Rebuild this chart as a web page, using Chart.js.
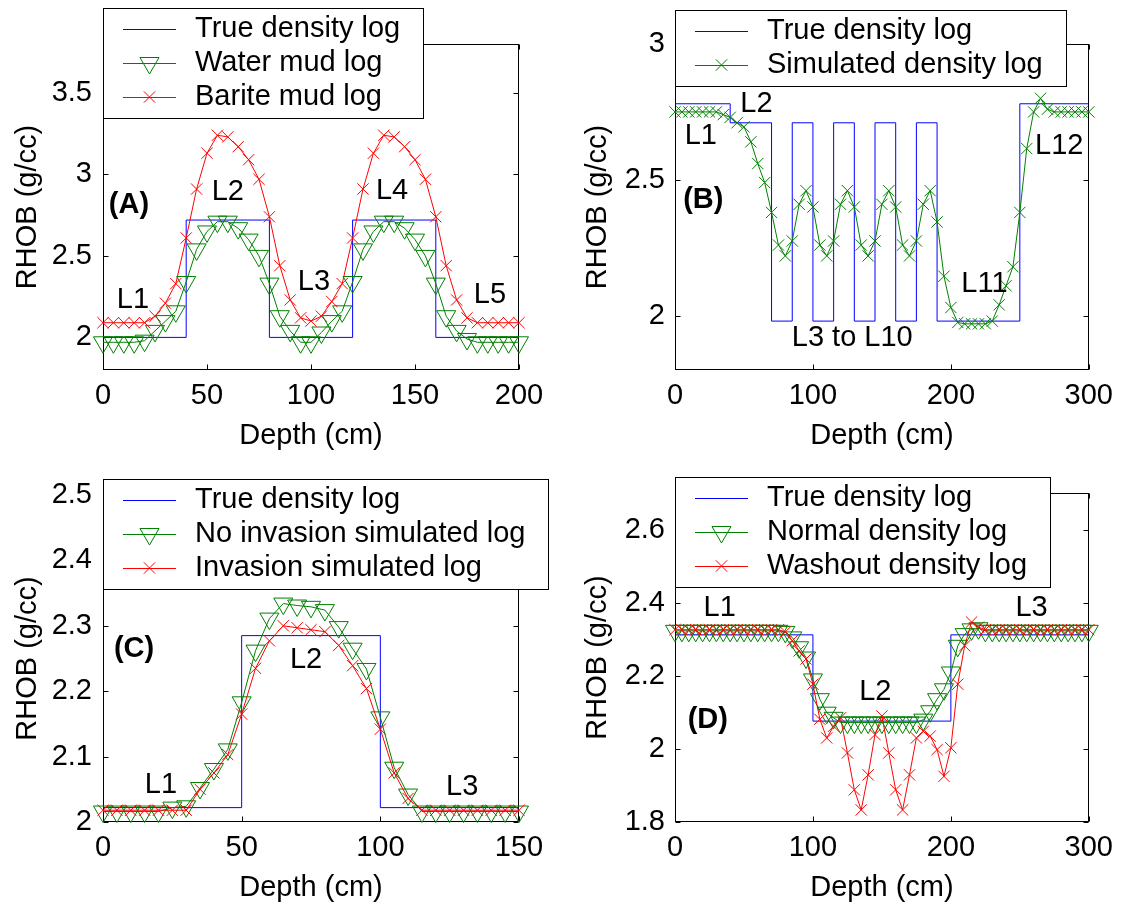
<!DOCTYPE html>
<html>
<head>
<meta charset="utf-8">
<title>Density log panels</title>
<script src="https://cdn.jsdelivr.net/npm/chart.js@4.4.0/dist/chart.umd.min.js"></script>
<style>
  body { margin: 0; background: #fff; width: 1122px; height: 909px; position: relative; overflow: hidden; }
  canvas { position: absolute; }
</style>
</head>
<body>
<canvas id="chartA" width="561" height="454" style="left:0;top:0"></canvas>
<canvas id="chartB" width="561" height="454" style="left:561px;top:0"></canvas>
<canvas id="chartC" width="561" height="455" style="left:0;top:454px"></canvas>
<canvas id="chartD" width="561" height="455" style="left:561px;top:454px"></canvas>
<script>
// --- PANEL A : water vs barite mud ---
const trueDepthA = [0, 40, 80, 120, 160, 200];
const trueRhobA  = [2.0, 2.72, 2.0, 2.72, 2.0, 2.0];
const depthA = [0, 5, 10, 15, 20, 25, 30, 35, 40, 45, 50, 55, 60, 65, 70, 75, 80, 85, 90, 95, 100,
                105, 110, 115, 120, 125, 130, 135, 140, 145, 150, 155, 160, 165, 170, 175, 180, 185, 190, 195, 200];
const waterA = [1.97, 1.97, 1.97, 1.97, 1.98, 2.04, 2.10, 2.16, 2.34, 2.54, 2.65, 2.71, 2.71, 2.67, 2.60, 2.50, 2.33, 2.13, 2.04, 1.97, 1.97,
                2.03, 2.10, 2.16, 2.34, 2.54, 2.65, 2.71, 2.71, 2.67, 2.60, 2.50, 2.33, 2.13, 2.04, 1.99, 1.97, 1.97, 1.97, 1.97, 1.97];
const bariteA = [2.09, 2.09, 2.09, 2.09, 2.09, 2.13, 2.21, 2.33, 2.61, 2.91, 3.13, 3.24, 3.23, 3.17, 3.09, 2.97, 2.74, 2.44, 2.23, 2.12, 2.10,
                 2.13, 2.22, 2.33, 2.61, 2.91, 3.13, 3.24, 3.23, 3.17, 3.09, 2.97, 2.74, 2.44, 2.23, 2.12, 2.09, 2.09, 2.09, 2.09, 2.09];
const xTicksA = [0, 50, 100, 150, 200];
const yTicksA = [2, 2.5, 3, 3.5];

// --- PANEL B : thin beds ---
const trueDepthB = [0, 40, 70, 85, 100, 115, 130, 145, 160, 175, 190, 250, 300];
const trueRhobB  = [2.78, 2.71, 1.98, 2.71, 1.98, 2.71, 1.98, 2.71, 1.98, 2.71, 1.98, 2.78, 2.78];
const depthB = [0, 5, 10, 15, 20, 25, 30, 35, 40, 45, 50, 55, 60, 65, 70, 75, 80, 85, 90, 95, 100,
                105, 110, 115, 120, 125, 130, 135, 140, 145, 150, 155, 160, 165, 170, 175, 180, 185, 190, 195, 200,
                205, 210, 215, 220, 225, 230, 235, 240, 245, 250, 255, 260, 265, 270, 275, 280, 285, 290, 295, 300];
const simB = [2.75, 2.75, 2.75, 2.75, 2.75, 2.75, 2.75, 2.74, 2.73, 2.71, 2.695, 2.64, 2.56, 2.49, 2.38, 2.26, 2.22, 2.275, 2.41, 2.46, 2.40,
              2.26, 2.22, 2.275, 2.41, 2.46, 2.40, 2.26, 2.22, 2.275, 2.41, 2.46, 2.40, 2.26, 2.22, 2.275, 2.41, 2.46, 2.345, 2.145, 2.03,
              1.975, 1.97, 1.97, 1.97, 1.97, 1.98, 2.04, 2.11, 2.18, 2.38, 2.615, 2.75, 2.80, 2.76, 2.75, 2.75, 2.75, 2.75, 2.75, 2.75];
const xTicksB = [0, 100, 200, 300];
const yTicksB = [2, 2.5, 3];

// --- PANEL C : invasion ---
const trueDepthC = [0, 50, 100, 150];
const trueRhobC  = [2.022, 2.285, 2.022, 2.022];
const depthC = [0, 5, 10, 15, 20, 25, 30, 35, 40, 45, 50, 55, 60, 65, 70, 75, 80, 85, 90, 95, 100,
                105, 110, 115, 120, 125, 130, 135, 140, 145, 150];
const noInvC = [2.016, 2.016, 2.016, 2.016, 2.016, 2.022, 2.024, 2.052, 2.081, 2.111, 2.183, 2.262, 2.311, 2.334, 2.331, 2.329,
                2.324, 2.298, 2.265, 2.234, 2.16, 2.083, 2.042, 2.016, 2.016, 2.016, 2.016, 2.016, 2.016, 2.016, 2.016];
const invC = [2.018, 2.018, 2.018, 2.018, 2.018, 2.018, 2.018, 2.05, 2.075, 2.103, 2.165, 2.235, 2.277, 2.30, 2.297, 2.294,
              2.291, 2.27, 2.239, 2.204, 2.142, 2.075, 2.036, 2.018, 2.018, 2.018, 2.018, 2.018, 2.018, 2.018, 2.018];
const xTicksC = [0, 50, 100, 150];
const yTicksC = [2, 2.1, 2.2, 2.3, 2.4, 2.5];

// --- PANEL D : washout ---
const trueDepthD = [0, 100, 200, 300];
const trueRhobD  = [2.312, 2.076, 2.312, 2.312];
const depthD = depthB;
const normalD = [2.323, 2.323, 2.323, 2.323, 2.323, 2.323, 2.323, 2.323, 2.323, 2.323, 2.323, 2.323, 2.323, 2.323, 2.323, 2.323,
                 2.32, 2.305, 2.278, 2.25, 2.19, 2.136, 2.099, 2.085, 2.072, 2.072, 2.072, 2.072, 2.072, 2.072, 2.072, 2.072,
                 2.072, 2.072, 2.072, 2.072, 2.08, 2.103, 2.136, 2.163, 2.209, 2.282, 2.314, 2.327, 2.33, 2.323, 2.323, 2.323,
                 2.323, 2.323, 2.323, 2.323, 2.323, 2.323, 2.323, 2.323, 2.323, 2.323, 2.323, 2.323, 2.323];
const washoutD = [2.326, 2.326, 2.326, 2.326, 2.326, 2.326, 2.326, 2.326, 2.326, 2.326, 2.326, 2.326, 2.326, 2.326, 2.326, 2.326,
                  2.32, 2.296, 2.268, 2.246, 2.177, 2.081, 2.03, 2.062, 2.085, 1.989, 1.888, 1.833, 1.929, 2.039, 2.09, 1.989,
                  1.888, 1.833, 1.929, 2.03, 2.048, 2.035, 1.998, 1.925, 2.003, 2.177, 2.282, 2.347, 2.333, 2.326, 2.326, 2.326,
                  2.326, 2.326, 2.326, 2.326, 2.326, 2.326, 2.326, 2.326, 2.326, 2.326, 2.326, 2.326, 2.326];
const xTicksD = [0, 100, 200, 300];
const yTicksD = [1.8, 2, 2.2, 2.4, 2.6];

// --- STYLE ---
const FONT_FAMILY = "'Liberation Sans', Arial, Helvetica, sans-serif";
const FONT_SIZE = 29;
const BLUE = '#0000ff', GREEN = '#008000', RED = '#ff0000';
Chart.defaults.font.family = FONT_FAMILY;
Chart.defaults.color = '#000';

const trueLog = (depth, rhob) => ({ label: 'True density log', depth, rhob, color: BLUE, stepped: true });
const triLog = (label, depth, rhob) => ({ label, depth, rhob, color: GREEN, marker: 'triangle', size: 11, rot: 180 });
const crossLog = (label, depth, rhob, color) => ({ label, depth, rhob, color, marker: 'crossRot', size: 8 });

const panels = [
  {
    id: 'chartA', left: 103, top: 44, right: 42, bottom: 84, yPad: 11, titlePadY: 11, titlePadX: 1,
    xMin: 0, xMax: 200, yMin: 1.8, yMax: 3.8, xTicks: xTicksA, yTicks: yTicksA,
    legend: { x: 103, y: 8 },
    series: [trueLog(trueDepthA, trueRhobA), triLog('Water mud log', depthA, waterA), crossLog('Barite mud log', depthA, bariteA, RED)],
    notes: [['L1', 14.4, 2.23], ['L2', 60, 2.89], ['L3', 101.4, 2.34], ['L4', 139, 2.90], ['L5', 186, 2.26], ['(A)', 12.5, 2.81, true]]
  },
  {
    id: 'chartB', left: 114, top: 44, right: 30, bottom: 84, yPad: 10, titlePadY: 20, titlePadX: 1,
    xMin: 0, xMax: 300, yMin: 1.8, yMax: 3.0, xTicks: xTicksB, yTicks: yTicksB,
    legend: { x: 114, y: 10 },
    series: [trueLog(trueDepthB, trueRhobB), crossLog('Simulated density log', depthB, simB, GREEN)],
    notes: [['L1', 18.7, 2.663], ['L2', 59, 2.78], ['L12', 278.6, 2.626], ['L11', 224.3, 2.115], ['L3 to L10', 128.5, 1.918], ['(B)', 20.5, 2.424, true]]
  },
  {
    id: 'chartC', left: 103, top: 41, right: 42, bottom: 87, yPad: 11, titlePadY: 11, titlePadX: 4,
    xMin: 0, xMax: 150, yMin: 2.0, yMax: 2.5, xTicks: xTicksC, yTicks: yTicksC,
    legend: { x: 103, y: 25 },
    series: [trueLog(trueDepthC, trueRhobC), triLog('No invasion simulated log', depthC, noInvC), crossLog('Invasion simulated log', depthC, invC, RED)],
    notes: [['L1', 20.9, 2.057], ['L2', 73.2, 2.248], ['L3', 129.5, 2.054], ['(C)', 11.2, 2.265, true]]
  },
  {
    id: 'chartD', left: 114, top: 39, right: 30, bottom: 87, yPad: 10, titlePadY: 20, titlePadX: 4,
    xMin: 0, xMax: 300, yMin: 1.8, yMax: 2.7, xTicks: xTicksD, yTicks: yTicksD,
    legend: { x: 114, y: 23 },
    series: [trueLog(trueDepthD, trueRhobD), triLog('Normal density log', depthD, normalD), crossLog('Washout density log', depthD, washoutD, RED)],
    notes: [['L1', 32.4, 2.385], ['L2', 145.2, 2.156], ['L3', 258.5, 2.385], ['(D)', 23.8, 2.079, true]]
  }
];

// box with inward ticks on all four sides (MATLAB style)
const boxTicks = {
  id: 'boxTicks',
  beforeDatasetsDraw(chart) {
    const { ctx, chartArea: a, scales: { x, y } } = chart;
    const L = Math.round(a.left) + 0.5, R = Math.round(a.right) - 0.5;
    const T = Math.round(a.top) + 0.5, B = Math.round(a.bottom) - 0.5;
    ctx.save();
    ctx.strokeStyle = '#000';
    ctx.lineWidth = 1;
    ctx.strokeRect(L, T, R - L, B - T);
    ctx.beginPath();
    x.ticks.forEach(t => {
      const px = Math.round(x.getPixelForValue(t.value)) + 0.5;
      ctx.moveTo(px, B); ctx.lineTo(px, B - 5);
      ctx.moveTo(px, T); ctx.lineTo(px, T + 5);
    });
    y.ticks.forEach(t => {
      const py = Math.round(y.getPixelForValue(t.value)) + 0.5;
      ctx.moveTo(L, py); ctx.lineTo(L + 5, py);
      ctx.moveTo(R, py); ctx.lineTo(R - 5, py);
    });
    ctx.stroke();
    ctx.restore();
  }
};

function makeOverlay(panel) {
  return {
    id: 'overlay',
    afterDatasetsDraw(chart) {
      const { ctx, scales: { x, y } } = chart;
      ctx.save();
      ctx.textAlign = 'center';
      ctx.textBaseline = 'middle';
      ctx.fillStyle = '#000';
      // layer names
      panel.notes.forEach(([txt, dx, dy, bold]) => {
        ctx.font = (bold ? 'bold ' : '') + FONT_SIZE + 'px ' + FONT_FAMILY;
        ctx.fillText(txt, x.getPixelForValue(dx), y.getPixelForValue(dy));
      });
      // legend box
      const sets = chart.data.datasets;
      ctx.font = FONT_SIZE + 'px ' + FONT_FAMILY;
      const w = Math.round(Math.max(...sets.map(s => ctx.measureText(s.label).width)) + 115);
      const h = 34 * sets.length + 8;
      const lx = panel.legend.x, ly = panel.legend.y;
      ctx.fillStyle = '#fff';
      ctx.fillRect(lx, ly, w, h);
      ctx.strokeStyle = '#000';
      ctx.lineWidth = 1;
      ctx.strokeRect(lx + 0.5, ly + 0.5, w, h);
      ctx.textAlign = 'left';
      sets.forEach((s, i) => {
        const cy = ly + 21 + i * 34;
        const col = panel.series[i].color;
        ctx.strokeStyle = col;
        ctx.lineWidth = 1;
        ctx.beginPath();
        ctx.moveTo(lx + 20, cy + 0.5);
        ctx.lineTo(lx + 73, cy + 0.5);
        ctx.stroke();
        if (s.pointRadius > 0) {
          ctx.fillStyle = 'rgba(0,0,0,0)';
          Chart.helpers.drawPoint(ctx, { pointStyle: s.pointStyle, rotation: s.pointRotation, radius: s.pointRadius, borderWidth: 1 }, lx + 46.5, cy);
        }
        ctx.fillStyle = '#000';
        ctx.fillText(s.label, lx + 92, cy);
      });
      ctx.restore();
    }
  };
}

panels.forEach(p => {
  const font = { size: FONT_SIZE, family: FONT_FAMILY };
  const datasets = p.series.map((s, i) => ({
    label: s.label,
    data: s.depth.map((d, k) => ({ x: d, y: s.rhob[k] })),
    borderColor: s.color,
    borderWidth: 1,
    backgroundColor: 'rgba(0,0,0,0)',
    pointStyle: s.marker || 'circle',
    pointRadius: s.marker ? s.size : 0,
    pointRotation: s.rot || 0,
    pointBorderColor: s.color,
    pointBackgroundColor: 'rgba(0,0,0,0)',
    pointBorderWidth: 1,
    stepped: s.stepped ? 'before' : false,
    tension: 0,
    fill: false,
    clip: false,
    order: p.series.length - i
  }));

  new Chart(document.getElementById(p.id), {
    type: 'line',
    data: { datasets },
    options: {
      responsive: false,
      animation: false,
      devicePixelRatio: 1,
      events: [],
      layout: { padding: { left: 0, top: p.top, right: p.right, bottom: 0 } },
      plugins: { legend: { display: false }, tooltip: { enabled: false } },
      scales: {
        x: {
          type: 'linear', min: p.xMin, max: p.xMax,
          afterBuildTicks: sc => { sc.ticks = p.xTicks.map(v => ({ value: v })); },
          afterFit: sc => { sc.height = p.bottom; },
          grid: { display: false, drawTicks: false },
          border: { display: false },
          ticks: { font, color: '#000', padding: 9, maxRotation: 0, autoSkip: false, callback: v => String(v) },
          title: { display: true, text: 'Depth (cm)', font, color: '#000', padding: { top: 0, bottom: p.titlePadX } }
        },
        y: {
          type: 'linear', min: p.yMin, max: p.yMax,
          afterBuildTicks: sc => { sc.ticks = p.yTicks.map(v => ({ value: v })); },
          afterFit: sc => { sc.width = p.left; },
          grid: { display: false, drawTicks: false },
          border: { display: false },
          ticks: { font, color: '#000', padding: p.yPad, autoSkip: false, callback: v => String(v) },
          title: { display: true, text: 'RHOB (g/cc)', font, color: '#000', padding: { top: p.titlePadY, bottom: 0 } }
        }
      }
    },
    plugins: [boxTicks, makeOverlay(p)]
  });
});
</script>
</body>
</html>
